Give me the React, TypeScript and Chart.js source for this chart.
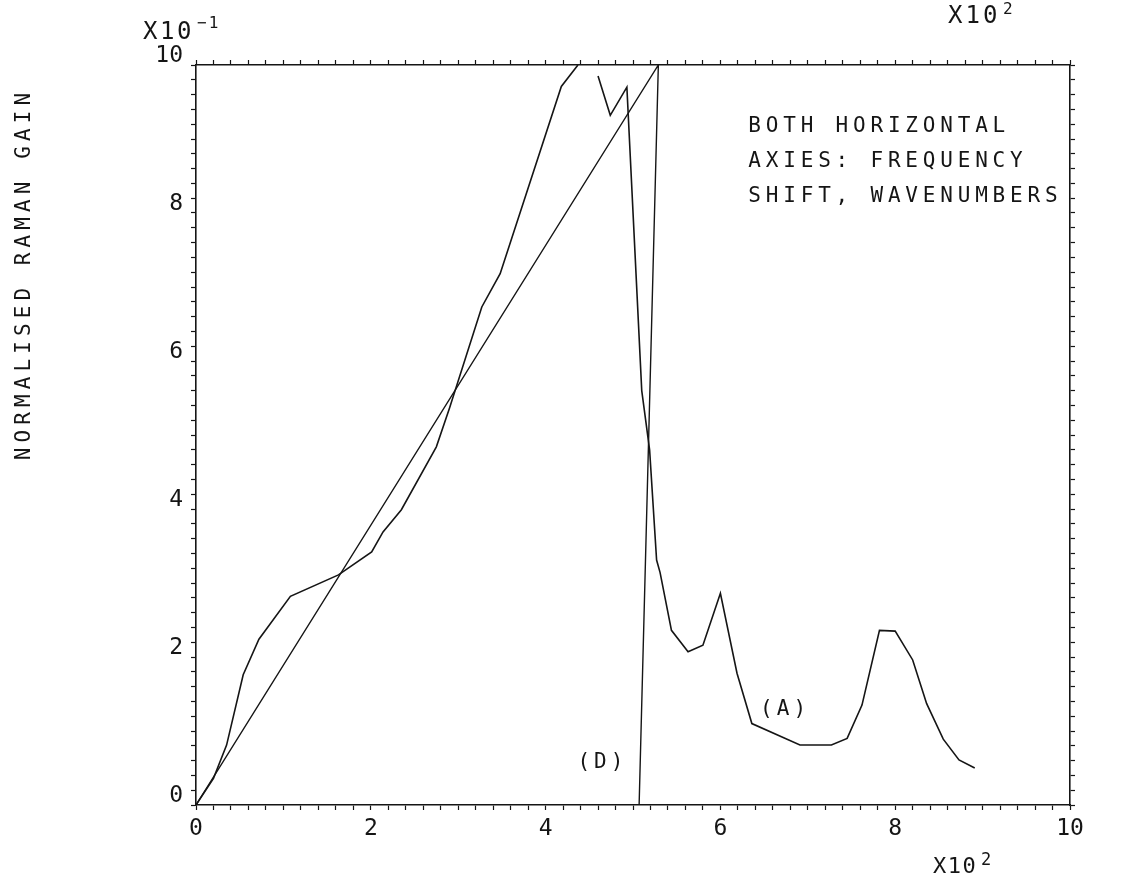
import React, { useEffect, useRef } from "react";
import { Chart, registerables } from "chart.js";

Chart.register(...registerables);

// Frequency shift (x10^2 wavenumbers) and normalised gain (x10^-1)
const shiftA = [0, 0.2, 0.35, 0.54, 0.72, 1.08, 1.63, 2.01, 2.14, 2.35, 2.75, 2.9, 3.27, 3.48, 4.18, 4.37, 4.48, 4.6, 4.74, 4.93, 5.1, 5.19, 5.27, 5.31, 5.44, 5.63, 5.8, 6.0, 6.19, 6.36, 6.91, 7.27, 7.45, 7.62, 7.82, 8.0, 8.2, 8.36, 8.55, 8.73, 8.91];
const gainA = [0, 0.36, 0.81, 1.76, 2.24, 2.82, 3.11, 3.42, 3.69, 3.99, 4.84, 5.36, 6.73, 7.18, 9.71, 10, null, 9.85, 9.32, 9.7, 5.6, 4.8, 3.31, 3.14, 2.36, 2.07, 2.16, 2.86, 1.78, 1.1, 0.81, 0.81, 0.9, 1.35, 2.36, 2.35, 1.96, 1.37, 0.89, 0.61, 0.5];

const shiftD = [0, 5.29, 5.07];
const gainD = [0, 10, 0];

const xMajorTicks = [0, 2, 4, 6, 8, 10];
const yMajorTicks = [0, 2, 4, 6, 8, 10];

const noteLines = ["BOTH HORIZONTAL", "AXIES: FREQUENCY", "SHIFT, WAVENUMBERS"];
const yTitle = "NORMALISED RAMAN GAIN";

const FONT = '"DejaVu Sans Mono", monospace';
const INK = "#151515";

const isMajor = (v: number, list: number[]) => list.some((m) => Math.abs(m - v) < 1e-6);

function drawText(
  ctx: CanvasRenderingContext2D,
  s: string,
  x: number,
  y: number,
  size: number,
  spacing: number,
  align: CanvasTextAlign = "left"
) {
  ctx.font = `normal ${size}px ${FONT}`;
  (ctx as any).letterSpacing = `${spacing}px`;
  ctx.textAlign = align;
  ctx.fillText(s, x, y);
}

const textPlugin = {
  id: "plotterText",
  afterDraw(chart: any) {
    const { ctx, chartArea: a, scales } = chart;
    const sx = scales.x;
    const sy = scales.y;
    ctx.save();
    ctx.fillStyle = INK;
    ctx.textBaseline = "alphabetic";

    // exponent markers
    drawText(ctx, "X10", a.left - 53, a.top - 26, 24, 2.5);
    drawText(ctx, "\u22121", a.left + 1, a.top - 37, 16, 2);
    drawText(ctx, "X10", 948, 23, 24, 3);
    drawText(ctx, "2", 1003, 14, 16, 0);
    drawText(ctx, "X10", 933, 873, 22, 1.5);
    drawText(ctx, "2", 981, 865, 17, 0);

    // note box
    const nx = sx.getPixelForValue(6.32);
    const baselines = [9.09, 8.62, 8.15];
    noteLines.forEach((line, i) => {
      drawText(ctx, line, nx, sy.getPixelForValue(baselines[i]), 21, 4.8);
    });

    // curve labels
    drawText(ctx, "(A)", sx.getPixelForValue(6.74), sy.getPixelForValue(1.22), 21, 4, "center");
    drawText(ctx, "(D)", sx.getPixelForValue(4.65), sy.getPixelForValue(0.5), 21, 4, "center");

    // y axis title
    ctx.save();
    ctx.translate(30, 274);
    ctx.rotate(-Math.PI / 2);
    drawText(ctx, yTitle, 0, 0, 21, 5.1, "center");
    ctx.restore();

    ctx.restore();
  },
};

const axisCommon = {
  type: "linear" as const,
  min: 0,
  max: 10,
  border: { display: true, color: INK, width: 1.6 },
  grid: {
    drawOnChartArea: false,
    drawTicks: true,
    tickLength: 5,
    tickColor: INK,
    tickWidth: 1.2,
  },
};

export default function App() {
  const ref = useRef<HTMLCanvasElement>(null);

  useEffect(() => {
    const canvas = ref.current;
    if (!canvas) return;
    const chart = new Chart(canvas, {
      type: "line",
      data: {
        datasets: [
          {
            label: "(A)",
            data: shiftA.map((x, i) => ({ x, y: gainA[i] })) as any,
            borderColor: INK,
            borderWidth: 1.6,
            pointRadius: 0,
            tension: 0,
            spanGaps: false,
            fill: false,
          },
          {
            label: "(D)",
            data: shiftD.map((x, i) => ({ x, y: gainD[i] })) as any,
            borderColor: INK,
            borderWidth: 1.4,
            pointRadius: 0,
            tension: 0,
            fill: false,
          },
        ],
      },
      options: {
        responsive: false,
        animation: false,
        devicePixelRatio: 1,
        layout: { padding: 0 },
        plugins: {
          legend: { display: false },
          tooltip: { enabled: false },
        },
        scales: {
          x: {
            ...axisCommon,
            position: "bottom",
            afterFit: (s: any) => {
              s.height = 74;
            },
            ticks: {
              stepSize: 0.2,
              autoSkip: false,
              maxRotation: 0,
              minRotation: 0,
              padding: 5,
              color: INK,
              font: { family: FONT, size: 23 },
              callback: (v: any) => (isMajor(Number(v), xMajorTicks) ? String(Math.round(Number(v))) : ""),
            },
          },
          x2: {
            ...axisCommon,
            display: true,
            position: "top",
            afterFit: (s: any) => {
              s.height = 65;
            },
            ticks: { stepSize: 0.2, autoSkip: false, maxRotation: 0, callback: () => "" },
          },
          y: {
            ...axisCommon,
            position: "left",
            afterFit: (s: any) => {
              s.width = 196;
            },
            ticks: {
              stepSize: 0.2,
              autoSkip: false,
              padding: 8,
              labelOffset: -9,
              color: INK,
              font: { family: FONT, size: 23 },
              callback: (v: any) => (isMajor(Number(v), yMajorTicks) ? String(Math.round(Number(v))) : ""),
            },
          },
          y2: {
            ...axisCommon,
            display: true,
            position: "right",
            afterFit: (s: any) => {
              s.width = 53;
            },
            ticks: { stepSize: 0.2, autoSkip: false, callback: () => "" },
          },
        },
      } as any,
      plugins: [textPlugin],
    });
    return () => chart.destroy();
  }, []);

  return (
    <div style={{ position: "fixed", left: 0, top: 0, width: 1123, height: 879, background: "#fff" }}>
      <canvas ref={ref} width={1123} height={879} style={{ display: "block" }} />
    </div>
  );
}
